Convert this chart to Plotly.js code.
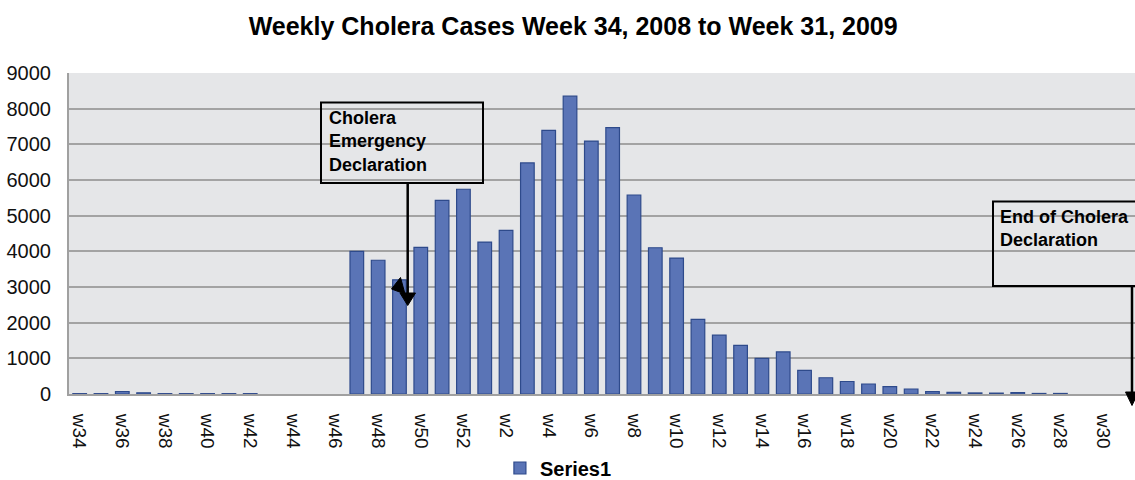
<!DOCTYPE html>
<html>
<head>
<meta charset="utf-8">
<script src="https://cdn.plot.ly/plotly-3.0.1.min.js"></script>
<style>html,body{margin:0;padding:0;background:#fff;}#chart{width:1135px;height:480px;}</style>
</head>
<body>
<div id="chart"></div>
<script>
const weeks = ['w34','w35','w36','w37','w38','w39','w40','w41','w42','w43','w44','w45','w46','w47','w48','w49','w50','w51','w52',
  'w1','w2','w3','w4','w5','w6','w7','w8','w9','w10','w11','w12','w13','w14','w15','w16','w17','w18','w19','w20',
  'w21','w22','w23','w24','w25','w26','w27','w28','w29','w30','w31'];
const cases = [10,10,70,35,10,10,10,10,10,null,null,null,null,4000,3750,3200,4110,5430,5740,
  4260,4590,6480,7390,8350,7090,7470,5580,4100,3810,2090,1650,1365,1000,1180,665,455,350,280,205,
  140,65,45,30,25,40,15,15,null,null,null];
const seriesName = 'Series1';
const chartTitle = 'Weekly Cholera Cases Week 34, 2008 to Week 31, 2009';
const note1 = 'Cholera<br>Emergency<br>Declaration';
const note2 = 'End of Cholera<br>Declaration';

// pixel -> paper helpers (plot area: x 69..1135, y 73..394)
const L = 69, W = 1066, T = 73, H = 321;
const px = x => (x - L) / W;
const py = y => (T + H - y) / H;

const sans = '"Liberation Sans", Arial, sans-serif';

const trace = {
  type: 'bar', x: weeks, y: cases, name: seriesName, showlegend: true,
  marker: {color: '#5a74b6', line: {color: '#2e4a8b', width: 1.2}}
};

const black = {color: '#000', width: 2};
const layout = {
  width: 1135, height: 480,
  margin: {l: L, r: 0, t: T, b: 480 - T - H},
  paper_bgcolor: '#ffffff', plot_bgcolor: '#e5e6e8',
  bargap: 0.36,
  title: {text: chartTitle, x: 0.505, xref: 'container', y: 0.945, yref: 'container', yanchor: 'middle',
          font: {family: sans, size: 25, color: '#000', weight: 'bold'}},
  xaxis: {type: 'category', categoryorder: 'array', categoryarray: weeks, range: [-0.5, weeks.length - 0.5],
          dtick: 2, tickangle: 90, showgrid: false, showline: true, linecolor: '#a0a0a0', linewidth: 2,
          ticks: '', ticklabelstandoff: 14, tickfont: {family: sans, size: 19, color: '#111'}, fixedrange: true},
  yaxis: {range: [0, 9000], dtick: 1000, showgrid: true, gridcolor: '#a3a3a3', gridwidth: 2,
          showline: true, linecolor: '#a0a0a0', linewidth: 2, zeroline: false,
          ticks: '', ticklabelstandoff: 12, tickfont: {family: sans, size: 20, color: '#111'}},
  legend: {orientation: 'h', x: 0.492, xref: 'container', xanchor: 'center', y: 0.025, yref: 'container', yanchor: 'middle',
           font: {family: sans, size: 20, color: '#000', weight: 'bold'}},
  shapes: [
    {type: 'rect', xref: 'paper', yref: 'paper', x0: px(321), x1: px(483), y0: py(183), y1: py(102.5),
     line: black, fillcolor: 'rgba(0,0,0,0)', layer: 'above'},
    {type: 'line', xref: 'paper', yref: 'paper', x0: px(407.7), x1: px(407.7), y0: py(183), y1: py(296),
     line: {color: '#000', width: 2.5}, layer: 'above'},
    {type: 'path', xref: 'paper', yref: 'paper', layer: 'above', fillcolor: '#000', line: {color: '#000', width: 1},
     path: `M${px(400)},${py(293)} L${px(415.5)},${py(293)} L${px(407.7)},${py(305.5)} Z`},
    {type: 'path', xref: 'paper', yref: 'paper', layer: 'above', fillcolor: '#000', line: {color: '#000', width: 1},
     path: `M${px(400.5)},${py(277.5)} L${px(391.5)},${py(289)} L${px(405)},${py(294)} Z`},
    {type: 'rect', xref: 'paper', yref: 'paper', x0: px(993), x1: px(1145), y0: py(286), y1: py(201.5),
     line: black, fillcolor: 'rgba(0,0,0,0)', layer: 'above'},
    {type: 'line', xref: 'paper', yref: 'paper', x0: px(1132), x1: px(1132), y0: py(286), y1: py(394),
     line: {color: '#000', width: 2.5}, layer: 'above'},
    {type: 'path', xref: 'paper', yref: 'paper', layer: 'above', fillcolor: '#000', line: {color: '#000', width: 1},
     path: `M${px(1125.5)},${py(392)} L${px(1138.5)},${py(392)} L${px(1132)},${py(405.5)} Z`}
  ],
  annotations: [
    {xref: 'paper', yref: 'paper', x: px(327), y: py(106), xanchor: 'left', yanchor: 'top', align: 'left',
     showarrow: false, text: note1, font: {family: sans, size: 18, color: '#000', weight: 'bold'}},
    {xref: 'paper', yref: 'paper', x: px(998), y: py(205), xanchor: 'left', yanchor: 'top', align: 'left',
     showarrow: false, text: note2, font: {family: sans, size: 18, color: '#000', weight: 'bold'}}
  ]
};

Plotly.newPlot('chart', [trace], layout, {displayModeBar: false, staticPlot: true});
</script>
</body>
</html>
